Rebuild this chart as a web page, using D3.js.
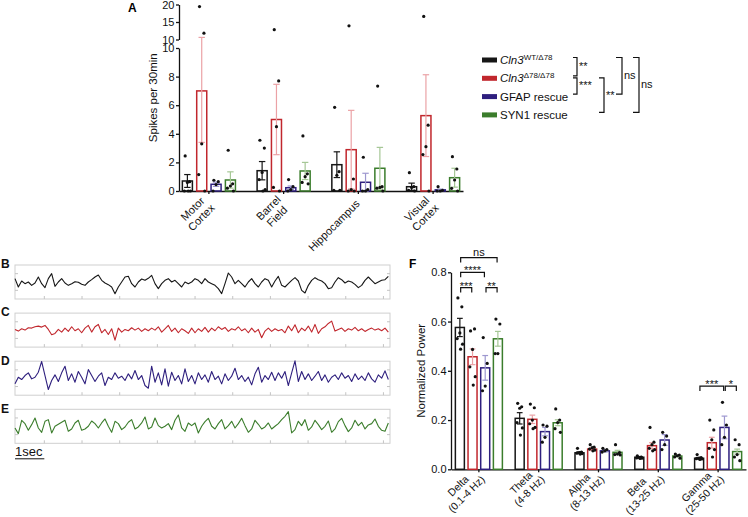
<!DOCTYPE html>
<html><head><meta charset="utf-8">
<script src="https://cdn.jsdelivr.net/npm/d3@7"></script>
<style>
html,body{margin:0;padding:0;background:#fff;}
svg{display:block;font-family:"Liberation Sans",Arial,sans-serif;}
</style></head><body>
<svg id="chart" width="748" height="517"></svg>
<script>
// ---------------- DATA ----------------
const genotypes = ["WT", "KO", "GFAP", "SYN1"];
const genoColors = ["#161616", "#c1272d", "#2e1f7e", "#3b7d2c"];
const errColors = ["#161616", "#eba2a6", "#9d97cf", "#a6c796"];
const legendMain = ["Cln3", "Cln3", "GFAP rescue", "SYN1 rescue"];
const legendSup = ["WT/\u039478", "\u039478/\u039478", "", ""];
const legendItalic = [true, true, false, false];

// Panel A : spikes per 30 min
const regions = ["Motor Cortex", "Barrel Field", "Hippocampus", "Visual Cortex"];
const regionLabels = [["Motor", "Cortex"], ["Barrel", "Field"], ["Hippocampus"], ["Visual", "Cortex"]];
const spikeTicksLow = [0, 2, 4, 6, 8, 10];
const spikeTicksHigh = [10, 15, 20];
const spikeMeanWT = [0.70, 1.42, 1.84, 0.30];
const spikeMeanKO = [7.00, 5.00, 2.89, 5.27];
const spikeMeanGFAP = [0.47, 0.23, 0.61, 0.08];
const spikeMeanSYN1 = [0.77, 1.40, 1.59, 0.93];
const spikeSemWT = [0.45, 0.64, 0.90, 0.25];
const spikeSemKO = [3.60, 2.46, 2.75, 2.86];
const spikeSemGFAP = [0.15, 0.12, 0.63, 0.05];
const spikeSemSYN1 = [0.57, 0.60, 1.46, 0.66];
const spikeDotsWT = [[2.45, 0.65, 0.6, 0, 0, 0], [3.55, 3.0, 1.3, 0.8, 0.1, 0], [5.85, 1.35, 1.1, 0.05, 0.05], [1.28, 0.3, 0.25, 0.05, 0]];
const spikeDotsKO = [[19.4, 11.8, 3.3, 1.15, 0], [12.8, 7.7, 4.5, 0.25, 0], [13.9, 0.84, 0.1, 0, 0], [16.6, 4.6, 3.1, 2.55, 0]];
const spikeDotsGFAP = [[0.75, 0.65, 0.45, 0], [0.8, 0.3, 0.1, 0], [2.36, 0.1, 0, 0], [0.3, 0.05, 0, 0]];
const spikeDotsSYN1 = [[2.85, 0.5, 0.35, 0.2, 0], [3.85, 1.2, 1.0, 0.6, 0.5], [7.34, 0.3, 0.25, 0.2, 0], [2.4, 1.54, 0.77, 0.19, 0]];
// legend significance (pairs of legend rows)
const legendStatFrom = [0, 1, 1, 0, 0];
const legendStatTo = [1, 2, 3, 2, 3];
const legendStatLabel = ["**", "***", "**", "ns", "ns"];

// Panels B-E : EEG traces (µV, sampled every traceDt s)
const traceDt = 0.1136;
const traceLetters = ["B", "C", "D", "E"];
const traceB = [20,-30,6,-10,0,-20,-6,30,-10,-34,20,50,-26,0,20,-6,-20,-10,2,-2,-14,-20,0,14,30,42,10,-6,-16,-30,-70,-30,0,30,34,-10,-30,0,18,10,22,40,-10,-40,-10,10,20,0,10,-10,-30,0,-10,0,20,10,-10,20,0,-10,-20,-40,-70,-10,54,30,-10,10,-10,-30,0,20,-10,-30,0,20,10,-30,6,34,-20,-30,-10,10,26,6,-50,-66,-20,10,26,14,6,-10,-40,-34,0,26,14,-6,6,0,-14,-34,-20,10,30,10,-10,0,10,14,34];
const traceC = [4,-6,8,0,14,12,20,24,18,28,4,-28,-20,4,-12,12,-8,20,-4,8,-16,12,28,-12,20,34,-16,4,-26,8,-60,12,-12,4,-4,14,0,12,-8,8,-4,12,0,20,-12,8,28,-8,12,-16,8,-4,-20,12,-16,8,-8,16,-12,12,-4,20,4,16,-8,8,0,20,-4,8,-16,12,-12,4,-46,-6,12,-8,8,-4,4,-16,24,-4,32,-16,12,-4,24,-12,34,-20,8,20,40,54,-6,4,12,-8,8,0,16,-4,8,-8,4,12,0,8,-4,12,-12];
const traceD = [-34,6,-8,16,32,-4,6,36,100,16,-68,-14,20,-20,32,72,-14,26,-24,40,6,-34,52,16,-20,12,32,-44,6,-8,32,0,12,-14,26,-4,46,-8,16,-44,-60,72,-24,32,-40,56,-48,36,-14,16,-34,56,-20,16,-34,32,-8,20,-24,40,-8,12,-34,26,-14,12,60,-8,16,-20,6,-40,26,66,-24,16,-8,36,-14,32,0,40,-44,32,104,-20,40,-8,26,-14,12,40,-14,20,-24,6,20,-8,32,0,16,-20,26,-8,12,-14,32,-4,-24,20,0,44,-8];
const traceE = [-10,-44,36,16,-24,10,50,-10,-36,30,40,-40,0,12,24,36,-30,-16,20,36,-24,-16,0,32,16,-10,20,44,0,-36,30,16,-20,-4,24,40,-16,-4,20,56,-16,-4,50,4,-10,0,16,-20,36,68,-10,-30,20,4,20,-40,0,28,48,0,-16,16,40,-16,4,30,-10,16,48,4,-36,-16,36,12,-16,-4,20,-16,0,16,40,60,88,-40,-20,30,4,40,-24,-4,36,10,-20,0,32,-36,-16,28,48,4,-32,-10,36,4,24,-16,8,16,44,0,-24,-30,20];
const traceTickStart = 1.0, traceTickStep = 1.284, traceTickCount = 10;
const traceDuration = 12.78;
const scaleBarSec = 1;

// Panel F : normalized power
const bands = ["Delta", "Theta", "Alpha", "Beta", "Gamma"];
const bandLabels = [["Delta", "(0.1-4 Hz)"], ["Theta", "(4-8 Hz)"], ["Alpha", "(8-13 Hz)"], ["Beta", "(13-25 Hz)"], ["Gamma", "(25-50 Hz)"]];
const powerTicks = [0, 0.2, 0.4, 0.6, 0.8];
const powerMeanWT = [0.576, 0.207, 0.067, 0.049, 0.045];
const powerMeanKO = [0.457, 0.203, 0.082, 0.096, 0.108];
const powerMeanGFAP = [0.412, 0.153, 0.075, 0.119, 0.170];
const powerMeanSYN1 = [0.530, 0.189, 0.069, 0.054, 0.072];
const powerSemWT = [0.037, 0.023, 0.004, 0.003, 0.003];
const powerSemKO = [0.032, 0.017, 0.006, 0.012, 0.022];
const powerSemGFAP = [0.050, 0.017, 0.005, 0.022, 0.046];
const powerSemSYN1 = [0.030, 0.012, 0.008, 0.004, 0.010];
const powerDotsWT = [[0.696,0.66,0.554,0.531,0.508,0.488],[0.268,0.254,0.248,0.19,0.168,0.139],[0.085,0.07,0.068,0.066,0.064,0.062],[0.055,0.05,0.048,0.046,0.045,0.044],[0.06,0.048,0.045,0.043,0.042,0.04]];
const powerDotsKO = [[0.562,0.57,0.487,0.416,0.376,0.342],[0.265,0.25,0.2,0.185,0.17,0.165],[0.1,0.09,0.088,0.082,0.078,0.075],[0.17,0.11,0.1,0.085,0.08,0.075],[0.2,0.16,0.12,0.085,0.08,0.05]];
const powerDotsGFAP = [[0.535,0.43,0.338,0.319],[0.18,0.175,0.13,0.11],[0.085,0.08,0.075,0.07],[0.15,0.135,0.1,0.08],[0.272,0.18,0.13,0.1]];
const powerDotsSYN1 = [[0.61,0.59,0.47,0.47],[0.245,0.2,0.19,0.165,0.15],[0.1,0.068,0.062,0.06,0.058],[0.062,0.058,0.055,0.05,0.045],[0.12,0.1,0.06,0.05,0.035]];
const powerStatBand = [0, 0, 0, 0, 4, 4];
const powerStatFrom = [0, 0, 0, 2, 0, 2];
const powerStatTo = [3, 2, 1, 3, 2, 3];
const powerStatHeight = [0.86, 0.80, 0.738, 0.738, 0.338, 0.338];
const powerStatLabel = ["ns", "****", "***", "**", "***", "*"];

// ---------------- DRAW ----------------
const svg = d3.select("#chart");
const FONT = "'Liberation Sans', Arial, sans-serif";
const jitter = [-0.22, 0.22, 0, -0.3, 0.3, 0.08];

function styleAxis(g, fs) {
  g.attr("font-family", FONT).attr("font-size", fs);
  g.selectAll("path,line").attr("stroke", "#111").attr("stroke-width", 1.3);
  g.selectAll("text").attr("fill", "#111");
}
function rotLabels(g, scale, labels, axisY, yMid, xEnd, fs) {
  scale.domain().forEach((d, i) => {
    const lines = labels[i];
    const wrap = g.append("g")
      .attr("transform", `translate(${scale(d) + scale.bandwidth() / 2},${axisY}) rotate(-45)`);
    const t = wrap.append("text").attr("text-anchor", "middle").attr("font-size", fs).attr("fill", "#111");
    const spans = lines.map((l, j) => t.append("tspan").attr("x", 0)
      .attr("y", yMid + (j - (lines.length - 1) / 2) * fs * 1.1).text(l));
    const w = d3.max(spans, s => s.node().getComputedTextLength());
    spans.forEach(s => s.attr("x", -w / 2 - xEnd));
  });
}
function drawGroupedBars(g, x0, x1, yf, cats, means, sems, dots) {
  const bw = x1.bandwidth();
  genotypes.forEach((gk, gi) => {
    cats.forEach((c, ci) => {
      const xl = x0(c) + x1(gk), xc = xl + bw / 2;
      const m = means[gi][ci], s = sems[gi][ci];
      g.append("rect").attr("x", xl).attr("y", yf(m)).attr("width", bw)
        .attr("height", yf(0) - yf(m)).attr("fill", "none")
        .attr("stroke", genoColors[gi]).attr("stroke-width", 1.5);
      const lo = Math.max(0, m - s), hi = m + s;
      const eg = g.append("g").attr("stroke", errColors[gi]).attr("stroke-width", 1.2);
      eg.append("line").attr("x1", xc).attr("x2", xc).attr("y1", yf(lo)).attr("y2", yf(hi));
      [lo, hi].forEach(v => eg.append("line").attr("x1", xc - bw * 0.32).attr("x2", xc + bw * 0.32)
        .attr("y1", yf(v)).attr("y2", yf(v)));
    });
  });
  genotypes.forEach((gk, gi) => {
    cats.forEach((c, ci) => {
      const xc = x0(c) + x1(gk) + bw / 2;
      dots[gi][ci].forEach((v, k) => {
        g.append("circle").attr("cx", xc + jitter[k % jitter.length] * bw).attr("cy", yf(v))
          .attr("r", 1.6).attr("fill", "#111");
      });
    });
  });
}

// ---- Panel A ----
const gA = svg.append("g");
const ax0 = d3.scaleBand().domain(regions).range([179, 463]).paddingInner(0.29).paddingOuter(0.045);
const ax1 = d3.scaleBand().domain(genotypes).range([0, ax0.bandwidth()]).paddingInner(0.3);
const ayLow = d3.scaleLinear().domain([0, 10]).range([191, 48]);
const ayHigh = d3.scaleLinear().domain([10, 20]).range([39.5, 4.5]);
const ay = v => v <= 10 ? ayLow(v) : ayHigh(v);

const aYL = gA.append("g").attr("transform", "translate(179,0)")
  .call(d3.axisLeft(ayLow).tickValues(spikeTicksLow).tickSize(3).tickSizeOuter(0).tickPadding(1.5));
const aYH = gA.append("g").attr("transform", "translate(179,0)")
  .call(d3.axisLeft(ayHigh).tickValues(spikeTicksHigh).tickSize(3).tickSizeOuter(0).tickPadding(1.5));
styleAxis(aYL, 11); styleAxis(aYH, 11);
const aXA = gA.append("g").attr("transform", "translate(0,191)")
  .call(d3.axisBottom(ax0).tickSize(3).tickSizeOuter(0));
aXA.selectAll(".tick text").remove();
styleAxis(aXA, 11);
rotLabels(gA, ax0, regionLabels, 191, 11, 8, 11);

drawGroupedBars(gA, ax0, ax1, ay, regions,
  [spikeMeanWT, spikeMeanKO, spikeMeanGFAP, spikeMeanSYN1],
  [spikeSemWT, spikeSemKO, spikeSemGFAP, spikeSemSYN1],
  [spikeDotsWT, spikeDotsKO, spikeDotsGFAP, spikeDotsSYN1]);

gA.append("text").attr("transform", `translate(157,${(ayLow(0) + ayHigh(20)) / 2}) rotate(-90)`)
  .attr("text-anchor", "middle").attr("font-size", 11.5).attr("fill", "#111").text("Spikes per 30min");
svg.append("text").attr("x", 128).attr("y", 12).attr("font-weight", "bold").attr("font-size", 12).text("A");

// legend
const legX = 482, legY0 = 60, legStep = 18.3;
const rowY = i => legY0 + i * legStep;
genotypes.forEach((gk, i) => {
  svg.append("rect").attr("x", legX).attr("y", rowY(i) - 2.5).attr("width", 15).attr("height", 5)
    .attr("fill", genoColors[i]);
  const t = svg.append("text").attr("x", legX + 18).attr("y", rowY(i) + 4).attr("font-size", 11.5).attr("fill", "#111");
  t.append("tspan").attr("font-style", legendItalic[i] ? "italic" : "normal").text(legendMain[i]);
  if (legendSup[i]) t.append("tspan").attr("font-size", 8).attr("dy", -4.5).text(legendSup[i]);
});
const bracketX = [577, 577, 604, 622, 639];
const bracketTick = [4, 4, 5, 6, 6];
legendStatFrom.forEach((a, i) => {
  const b = legendStatTo[i];
  const y1 = rowY(a) - 2.5 + (a > 0 ? 2 : 0), y2 = rowY(b) - 2.5, x = bracketX[i];
  svg.append("path").attr("d", `M${x - bracketTick[i]},${y1}H${x}V${y2}H${x - bracketTick[i]}`)
    .attr("fill", "none").attr("stroke", "#111").attr("stroke-width", 1.2);
  svg.append("text").attr("x", x + 2).attr("y", (y1 + y2) / 2 + 3.5).attr("font-size", 11)
    .attr("fill", "#111").text(legendStatLabel[i]);
});

// ---- Panels B-E ----
const traces = [traceB, traceC, traceD, traceE];
const tx = d3.scaleLinear().domain([0, traceDuration]).range([15, 390]);
const traceTop0 = 265, traceStep = 48.1, traceH = 34;
const traceTicks = d3.range(traceTickCount).map(k => traceTickStart + k * traceTickStep);
traces.forEach((tr, i) => {
  const top = traceTop0 + i * traceStep;
  const ty = d3.scaleLinear().domain([-102, 102]).range([top + traceH, top]);
  const g = svg.append("g");
  g.append("rect").attr("x", tx(0)).attr("y", top).attr("width", tx(traceDuration) - tx(0)).attr("height", traceH)
    .attr("fill", "none").attr("stroke", "#cfcfcf").attr("stroke-width", 1);
  traceTicks.forEach(t => g.append("line").attr("x1", tx(t)).attr("x2", tx(t))
    .attr("y1", top + traceH).attr("y2", top + traceH - 3).attr("stroke", "#c4c4c4"));
  [-50, 50].forEach(v => {
    g.append("line").attr("x1", tx(0)).attr("x2", tx(0) + 3).attr("y1", ty(v)).attr("y2", ty(v)).attr("stroke", "#c4c4c4");
    g.append("line").attr("x1", tx(traceDuration)).attr("x2", tx(traceDuration) - 3).attr("y1", ty(v)).attr("y2", ty(v)).attr("stroke", "#c4c4c4");
  });
  g.append("path").datum(tr)
    .attr("d", d3.line().x((d, k) => tx(k * traceDt)).y(d => ty(d)))
    .attr("fill", "none").attr("stroke", genoColors[i]).attr("stroke-width", 1.1).attr("stroke-linejoin", "round");
  svg.append("text").attr("x", 1).attr("y", top + 3.3).attr("font-weight", "bold").attr("font-size", 12)
    .attr("fill", "#111").text(traceLetters[i]);
});
const lastTop = traceTop0 + 3 * traceStep + traceH;
svg.append("line").attr("x1", tx(0)).attr("x2", tx(scaleBarSec)).attr("y1", lastTop + 15.5).attr("y2", lastTop + 15.5)
  .attr("stroke", "#111").attr("stroke-width", 1);
svg.append("text").attr("x", tx(0)).attr("y", lastTop + 13).attr("font-size", 13).attr("fill", "#111").text(scaleBarSec + "sec");

// ---- Panel F ----
const gF = svg.append("g");
const fx0 = d3.scaleBand().domain(bands).range([451, 746]).paddingInner(0.214).paddingOuter(0.073);
const fx1 = d3.scaleBand().domain(genotypes).range([0, fx0.bandwidth()]).paddingInner(0.29);
const fy = d3.scaleLinear().domain([0, 0.8]).range([469.3, 272.3]);
const fYA = gF.append("g").attr("transform", "translate(451,0)")
  .call(d3.axisLeft(fy).tickValues(powerTicks).tickFormat(d3.format(".1f")).tickSize(3).tickSizeOuter(0).tickPadding(1.5));
styleAxis(fYA, 11);
const fXA = gF.append("g").attr("transform", `translate(0,${fy(0)})`)
  .call(d3.axisBottom(fx0).tickSize(3).tickSizeOuter(0));
fXA.selectAll(".tick text").remove();
styleAxis(fXA, 11);
rotLabels(gF, fx0, bandLabels, fy(0), 6.5, 3, 10.5);
drawGroupedBars(gF, fx0, fx1, fy, bands,
  [powerMeanWT, powerMeanKO, powerMeanGFAP, powerMeanSYN1],
  [powerSemWT, powerSemKO, powerSemGFAP, powerSemSYN1],
  [powerDotsWT, powerDotsKO, powerDotsGFAP, powerDotsSYN1]);
gF.append("text").attr("transform", `translate(425,${(fy(0) + fy(0.8)) / 2}) rotate(-90)`)
  .attr("text-anchor", "middle").attr("font-size", 11.5).attr("fill", "#111").text("Normalized Power");
svg.append("text").attr("x", 409).attr("y", 268).attr("font-weight", "bold").attr("font-size", 12).text("F");
const fbw = fx1.bandwidth();
powerStatBand.forEach((bi, i) => {
  const band = bands[bi];
  const x1 = fx0(band) + fx1(genotypes[powerStatFrom[i]]) + fbw / 2 + 0.8;
  const x2 = fx0(band) + fx1(genotypes[powerStatTo[i]]) + fbw / 2 - 0.8;
  const y = fy(powerStatHeight[i]);
  gF.append("path").attr("d", `M${x1},${y + 5}V${y}H${x2}V${y + 5}`)
    .attr("fill", "none").attr("stroke", "#111").attr("stroke-width", 1.2);
  const star = powerStatLabel[i].includes("*");
  gF.append("text").attr("x", (x1 + x2) / 2).attr("y", star ? y + 2 : y - 1.5)
    .attr("text-anchor", "middle").attr("font-size", 11).attr("fill", "#111").text(powerStatLabel[i]);
});
</script></body></html>
